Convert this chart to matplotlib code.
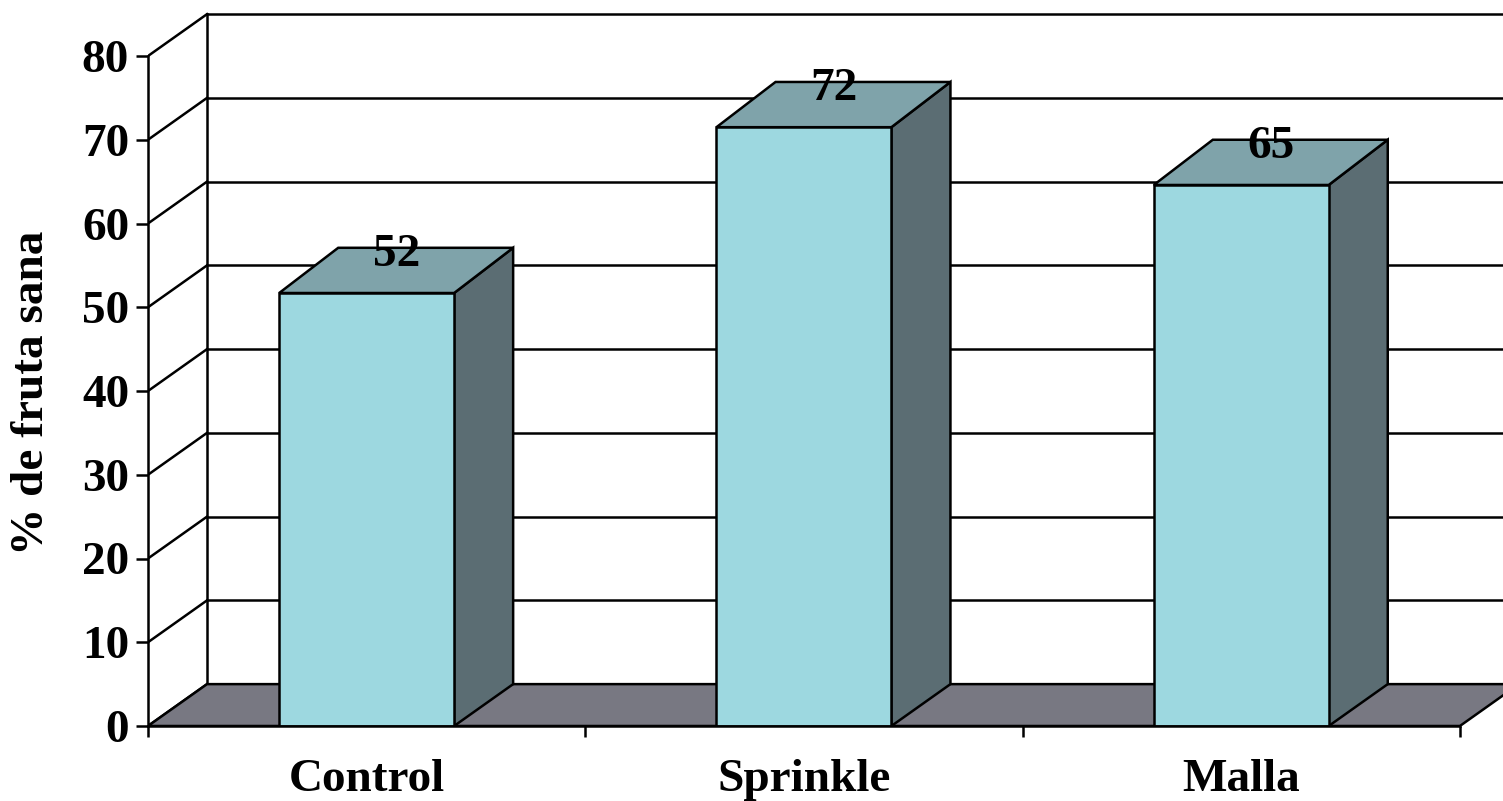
import matplotlib.pyplot as plt
from matplotlib.patches import Polygon

categories = ["Control", "Sprinkle", "Malla"]
values = [51.7, 71.5, 64.6]
value_labels = ["52", "72", "65"]
y_ticks = [0, 10, 20, 30, 40, 50, 60, 70, 80]

# colores
front_col = "#9dd8e0"
top_col = "#7fa3aa"
side_col = "#5b6d73"
floor_col = "#787882"

# profundidad del efecto 3D (en unidades de categoria / de valor)
dx = 0.135
dy = 5.0
bar_dy = 5.4
bar_w = 0.4

plt.rcParams['font.family'] = ['Liberation Serif', 'DejaVu Serif']
plt.rcParams['font.weight'] = 'bold'

fig = plt.figure(figsize=(15.03, 8.01), dpi=100)
ax = fig.add_axes([148 / 1503, 75 / 801, 1355 / 1503, 726 / 801])
ax.set_xlim(0, 1355 / 437.3)
ax.set_ylim(0, 726 / 8.375)
ax.patch.set_visible(False)

n = len(categories)
lw = 1.8

# pared del fondo: lineas de cuadricula y diagonales
ymax = y_ticks[-1]
for v in y_ticks:
    ax.plot([dx, n + 1], [v + dy, v + dy], color="black", lw=lw, zorder=1)
    ax.plot([0, dx], [v, v + dy], color="black", lw=lw, zorder=1)
ax.plot([dx, dx], [dy, ymax + dy], color="black", lw=lw, zorder=1)

# suelo
floor = Polygon([(0, 0), (dx, dy), (n + dx, dy), (n, 0)], closed=True,
                facecolor=floor_col, edgecolor="black", lw=lw, zorder=2)
ax.add_patch(floor)

# barras 3D
for i, h in enumerate(values):
    x0 = i + 0.5 - bar_w / 2
    x1 = i + 0.5 + bar_w / 2
    front = Polygon([(x0, 0), (x1, 0), (x1, h), (x0, h)],
                    facecolor=front_col, edgecolor="black", lw=lw, zorder=4)
    top = Polygon([(x0, h), (x1, h), (x1 + dx, h + bar_dy), (x0 + dx, h + bar_dy)],
                  facecolor=top_col, edgecolor="black", lw=lw, zorder=4)
    side = Polygon([(x1, 0), (x1 + dx, dy), (x1 + dx, h + bar_dy), (x1, h)],
                   facecolor=side_col, edgecolor="black", lw=lw, zorder=4)
    for p in (side, top, front):
        ax.add_patch(p)
    ax.text(i + 0.5 + dx / 2, h + 3.2, value_labels[i], ha="center",
            va="baseline", fontsize=34, fontweight="bold", zorder=5)

# ejes frontales
for s in ("top", "right"):
    ax.spines[s].set_visible(False)
ax.spines["left"].set_bounds(0, ymax)
ax.spines["bottom"].set_bounds(0, n)
ax.spines["left"].set_linewidth(lw)
ax.spines["bottom"].set_linewidth(lw)
ax.spines["left"].set_zorder(6)
ax.spines["bottom"].set_zorder(6)

ax.set_yticks(y_ticks)
ax.set_yticklabels([str(v) for v in y_ticks], fontsize=34, fontweight="bold")
ax.tick_params(axis="y", direction="out", length=8.6, width=lw, pad=5)

ax.set_xticks(range(n + 1))
ax.set_xticklabels([])
ax.tick_params(axis="x", which="major", direction="out", length=8, width=lw)
ax.set_xticks([i + 0.5 for i in range(n)], minor=True)
ax.set_xticklabels(categories, minor=True, fontsize=34, fontweight="bold")
ax.tick_params(axis="x", which="minor", length=0, pad=24)

fig.text(32 / 1503, 1 - 393 / 801, "% de fruta sana", rotation=90,
         ha="center", va="center", fontsize=34, fontweight="bold")

fig.savefig("out.png", dpi=100)
